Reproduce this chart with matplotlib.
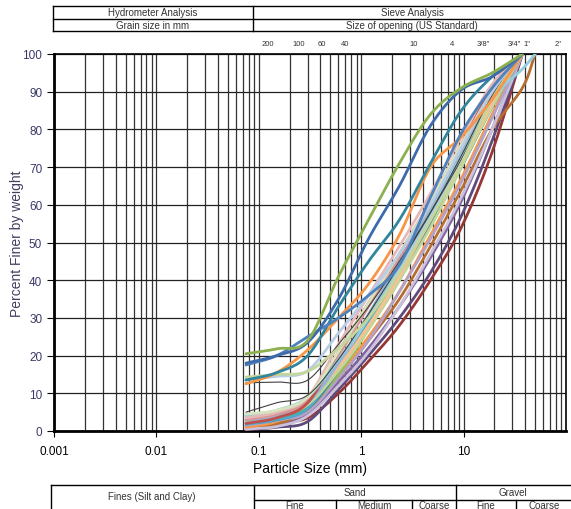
import numpy as np
import matplotlib
matplotlib.use("Agg")
import matplotlib.pyplot as plt
from matplotlib.lines import Line2D

plt.rcParams['font.family'] = ['Liberation Sans', 'DejaVu Sans']

# 筛孔尺寸 (mm)
sieve_mm = [0.075, 0.15, 0.3, 0.6, 1.18, 2.36, 4.75, 9.5, 19, 37.5, 50]
nan = np.nan

# 细颗粒含量较高的几条曲线
green_top = [20.5, 21.8, 24, 41, 56, 71, 84, 91, 95, 100, nan]
blue_top = [18, 20, 23.5, 35, 51, 65, 81, 90.5, 94, 100, nan]
blue_mid = [17.5, 20, 25, 30, 36, 44, 62, 79, 91, 100, nan]
teal_top = [13.5, 15.5, 20, 33, 45, 56, 71, 85, 94, 100, nan]
orange_top = [12.5, 15.5, 21.5, 30, 39, 52, 70, 78, 88, 100, nan]
lgreen_13 = [14.3, 15, 15.8, 22, 30, 42, 56, 71, 88, 100, nan]
gray_13 = [12.8, 13, 13.5, 23, 33, 45, 58, 73, 89, 100, nan]
steel_13 = [13.8, 14.5, 16, 26, 36, 47, 60, 75, 90, 100, nan]

# 主体曲线束
red_dark = [1.3, 2.2, 3.5, 10, 18.5, 28, 40, 54, 74, 100, nan]
purple_dark = [0.3, 1.0, 2.5, 11, 20, 30, 42, 57, 77, 100, nan]
purple = [0.8, 1.5, 4.5, 13, 22, 33, 46, 61, 80, 100, nan]
brown = [0.5, 1.8, 5.5, 14, 24, 35, 49, 64, 80, 91, 100]
orange = [1.0, 2.5, 6.5, 15, 25, 37, 52, 67, 84, 100, nan]
pink = [3.0, 4.5, 8.0, 20, 33, 46, 60, 75, 90, 100, nan]
red = [2.0, 3.5, 7.5, 21, 34, 47, 61, 76, 91, 100, nan]
lblue = [4.0, 5.5, 9.0, 19, 30, 44, 58, 73, 88, 96, 100]
lgreen = [2.5, 4.0, 7.0, 16, 27, 40, 54, 70, 86, 100, nan]
lavender = [1.5, 2.8, 5.0, 14, 24, 37, 51, 66, 83, 100, nan]
peach = [3.5, 5.0, 8.5, 17, 28, 41, 56, 71, 87, 100, nan]
steel = [3.0, 4.5, 8.0, 18, 30, 43, 57, 72, 88, 100, nan]
aqua = [1.8, 3.0, 6.0, 17, 29, 42, 56, 72, 88, 100, nan]
green = [2.2, 3.5, 6.5, 15, 27, 40, 55, 70, 86, 100, nan]
sky = [2.8, 4.0, 7.5, 18, 31, 45, 59, 74, 89, 100, nan]
gray_thin = [5.0, 7.5, 9.5, 19, 31, 44, 58, 72, 88, 100, nan]
rose = [3.5, 5.0, 9.0, 23, 36, 49, 63, 78, 92, 100, nan]
pale_green = [4.5, 5.5, 9.0, 21, 34, 47, 61, 76, 90, 100, nan]
pale_lav = [0.5, 1.2, 4.0, 12, 21, 33, 47, 62, 80, 100, nan]
teal_dark = [2.0, 3.0, 6.0, 16, 28, 41, 55, 70, 86, 100, nan]

# 顶部筛号标注
sieve_labels = ['200', '100', '60', '40', '10', '4', '3/8"', '3/4"', '1"', '2"']
sieve_label_mm = [0.075, 0.15, 0.25, 0.425, 2.0, 4.75, 9.5, 19.0, 25.4, 50.8]

bundle = [
    (red_dark, '#953735', 2.0), (purple_dark, '#604A7B', 2.0),
    (purple, '#8064A2', 2.0), (brown, '#B66D31', 2.0),
    (pale_lav, '#CCC1DA', 2.0), (orange, '#F79646', 2.0),
    (lavender, '#B3A2C7', 2.0), (green, '#9BBB59', 2.0),
    (teal_dark, '#31859C', 2.0), (aqua, '#4BACC6', 2.0),
    (lgreen, '#C3D69B', 2.0), (peach, '#FAC090', 2.0),
    (steel, '#B9CDE5', 2.0), (sky, '#95B3D7', 2.0),
    (pink, '#D99694', 2.0), (red, '#C0504D', 2.0),
    (lblue, '#93CDDD', 2.0), (rose, '#E6B9B8', 2.0),
    (pale_green, '#D7E4BD', 2.0), (gray_thin, '#404040', 0.8),
]
upper = [
    (gray_13, '#404040', 0.8), (steel_13, '#B9CDE5', 2.0),
    (lgreen_13, '#C3D69B', 2.0), (orange_top, '#F79646', 2.0),
    (teal_top, '#31859C', 2.0), (blue_mid, '#4F81BD', 2.0),
    (blue_top, '#3C6AAA', 2.0), (green_top, '#8DB04F', 2.0),
]


# Excel 风格的平滑曲线 (Catmull-Rom, 在 log x 空间)
def smooth_curve(xs, ys, n=16):
    xs = np.asarray(xs, float)
    ys = np.asarray(ys, float)
    ok = ~np.isnan(ys)
    P = np.column_stack([np.log10(xs[ok]), ys[ok]])
    P = np.vstack([2 * P[0] - P[1], P, 2 * P[-1] - P[-2]])
    t = np.linspace(0, 1, n, endpoint=False)[:, None]
    segs = []
    for i in range(1, len(P) - 2):
        p0, p1, p2, p3 = P[i - 1], P[i], P[i + 1], P[i + 2]
        seg = 0.5 * (2 * p1 + (-p0 + p2) * t
                     + (2 * p0 - 5 * p1 + 4 * p2 - p3) * t ** 2
                     + (-p0 + 3 * p1 - 3 * p2 + p3) * t ** 3)
        segs.append(seg)
    segs.append(P[-2][None, :])
    out = np.vstack(segs)
    return 10 ** out[:, 0], np.clip(out[:, 1], 0, 100)


W, H = 571, 510
fig = plt.figure(figsize=(W / 100, H / 100), dpi=100)
ax = fig.add_axes([54 / W, (H - 432) / H, 512 / W, 377 / H])

for vals, col, lw in bundle + upper:
    sx, sy = smooth_curve(sieve_mm, vals)
    ax.plot(sx, sy, color=col, lw=lw, solid_capstyle='round', zorder=3)

ax.set_xscale('log')
ax.set_xlim(0.001, 100)
ax.set_ylim(0, 100)
ax.set_yticks(np.arange(0, 101, 10))
ax.set_xticks([0.001, 0.01, 0.1, 1, 10])
ax.set_xticklabels(['0.001', '0.01', '0.1', '1', '10'])
ax.grid(True, which='both', axis='x', color='#333333', lw=0.9, zorder=1)
ax.grid(True, which='major', axis='y', color='#222222', lw=0.9, zorder=1)
ax.tick_params(axis='x', which='minor', length=0)
ax.tick_params(axis='x', which='major', length=4, labelsize=8.5, pad=6)
ax.tick_params(axis='y', length=5, labelsize=8.5, labelcolor='#3a3a6a')
for s in ax.spines.values():
    s.set_color('black')
    s.set_linewidth(1.2)
ax.spines['left'].set_linewidth(2)
ax.spines['bottom'].set_linewidth(2)

ax.set_xlabel('Particle Size (mm)', fontsize=10, labelpad=3)
ax.set_ylabel('Percent Finer by weight', fontsize=10, color='#404060', labelpad=-1.5)

# 筛号
for lab, mm in zip(sieve_labels, sieve_label_mm):
    ax.annotate(lab, (mm, 100), xytext=(22, 10), textcoords='offset pixels',
                ha='center', va='center', fontsize=5.5, color='#333333',
                annotation_clip=False)


# 表格线 (像素坐标)
def hline(x0, x1, y):
    fig.add_artist(Line2D([x0 / W, x1 / W], [1 - y / H, 1 - y / H],
                          color='black', lw=1, transform=fig.transFigure))


def vline(x, y0, y1):
    fig.add_artist(Line2D([x / W, x / W], [1 - y0 / H, 1 - y1 / H],
                          color='black', lw=1, transform=fig.transFigure))


def cell_text(x, y, s):
    fig.text(x / W, 1 - y / H, s, ha='center', va='center', fontsize=7,
             color='#333333')


# 顶部表格
hline(53, 571, 7)
hline(53, 571, 19.5)
hline(53, 571, 32)
vline(53, 7, 32)
vline(253, 7, 32)
cell_text(153, 13.5, 'Hydrometer Analysis')
cell_text(412, 13.5, 'Sieve Analysis')
cell_text(153, 26, 'Grain size in mm')
cell_text(412, 26, 'Size of opening (US Standard)')

# 底部表格
hline(51, 571, 486)
hline(254, 571, 500.5)
vline(51, 486, 510)
vline(254, 486, 510)
vline(456, 486, 510)
vline(336, 500.5, 510)
vline(412, 500.5, 510)
vline(516, 500.5, 510)
cell_text(152, 497, 'Fines (Silt and Clay)')
cell_text(355, 493, 'Sand')
cell_text(513, 493, 'Gravel')
cell_text(295, 506.5, 'Fine')
cell_text(374, 506.5, 'Medium')
cell_text(434, 506.5, 'Coarse')
cell_text(486, 506.5, 'Fine')
cell_text(544, 506.5, 'Coarse')

fig.savefig('out.png', dpi=100)
